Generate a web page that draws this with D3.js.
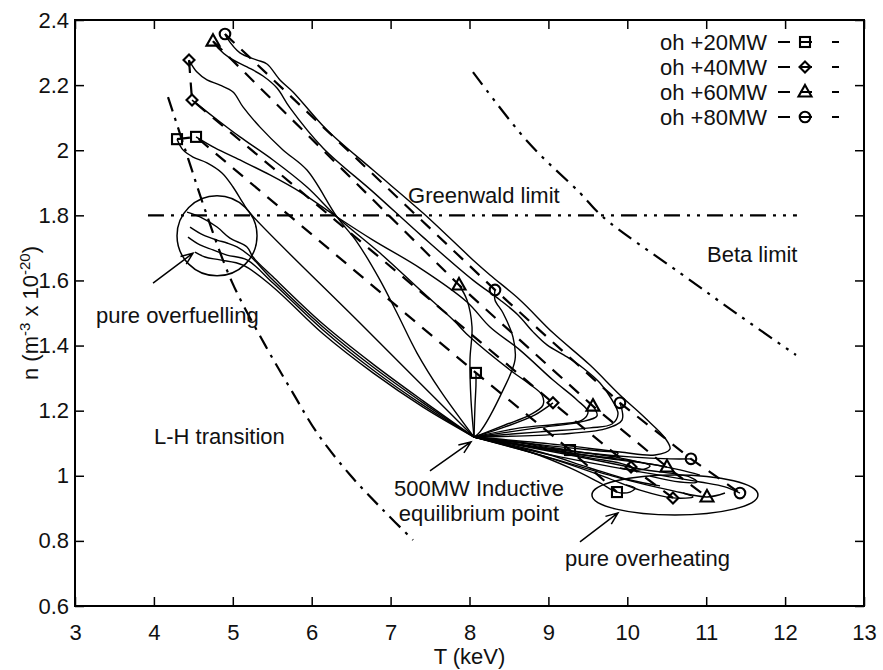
<!DOCTYPE html>
<html><head><meta charset="utf-8">
<script src="https://cdn.jsdelivr.net/npm/d3@7"></script>
<style>
html,body{margin:0;padding:0;background:#fff;}
svg{display:block;}
text{font-family:"Liberation Sans",Arial,Helvetica,sans-serif;fill:#111;}
</style></head><body>
<svg id="chart" width="883" height="670"></svg>
<script>
// ---------------- data ----------------
const xTicks = [3,4,5,6,7,8,9,10,11,12,13];
const xTickLabels = ["3","4","5","6","7","8","9","10","11","12","13"];
const yTicks = [0.6,0.8,1.0,1.2,1.4,1.6,1.8,2.0,2.2,2.4];
const yTickLabels = ["0.6","0.8","1","1.2","1.4","1.6","1.8","2","2.2","2.4"];
const seriesNames = ["oh +20MW","oh +40MW","oh +60MW","oh +80MW"];
const seriesSymbols = ["square","diamond","triangle","circle"];

const eqPoint = [8.057,1.119];

// steady-state end points (markers) per series
const pts20 = [[4.293,2.034],[4.534,2.041],[8.082,1.316],[9.274,1.079],[9.869,0.950]];
const pts40 = [[4.445,2.277],[4.483,2.154],[9.058,1.224],[10.047,1.027],[10.579,0.932]];
const pts60 = [[4.749,2.335],[7.867,1.586],[9.565,1.214],[10.503,1.027],[11.010,0.935]];
const pts80 = [[4.901,2.357],[8.323,1.571],[9.907,1.224],[10.807,1.052],[11.428,0.947]];

// trajectories (all start at the equilibrium point)
const traj20 = [
 [[6.637,1.463],[5.218,1.807],[5.129,1.838],[5.003,1.887],[4.863,1.930],[4.673,1.961],[4.496,1.979],[4.369,2.001],[4.293,2.034]],
 [[8.640,1.147],[9.147,1.159],[9.426,1.171],[9.502,1.196],[9.362,1.233],[9.058,1.294],[8.640,1.386],[8.260,1.457],[7.968,1.534],[7.373,1.638],[6.777,1.724],[6.321,1.795],[5.852,1.872],[5.471,1.924],[5.091,1.970],[4.774,2.007],[4.534,2.041]],
 [[8.070,1.217],[8.082,1.279],[8.082,1.316]],
 [[8.640,1.101],[9.020,1.085],[9.274,1.079]],
 [[8.767,1.073],[9.274,1.024],[9.654,0.978],[9.869,0.950],[10.034,0.950],[10.098,0.962],[9.983,0.972]]
];
const traj40 = [
 [[7.626,1.263],[7.335,1.377],[7.081,1.500],[6.866,1.601],[6.574,1.718],[6.321,1.795],[5.940,1.939],[5.636,2.001],[5.345,2.071],[5.129,2.133],[5.003,2.179],[4.838,2.200],[4.673,2.216],[4.546,2.240],[4.445,2.277]],
 [[8.450,1.156],[8.767,1.187],[8.931,1.217],[8.919,1.248],[8.741,1.285],[8.513,1.325],[8.006,1.426],[7.791,1.479],[7.373,1.571],[6.866,1.684],[6.321,1.795],[5.940,1.887],[5.509,1.970],[5.091,2.041],[4.774,2.099],[4.483,2.154]],
 [[8.450,1.150],[8.830,1.187],[9.058,1.224]],
 [[8.893,1.085],[9.527,1.055],[9.907,1.039],[10.047,1.027]],
 [[8.893,1.064],[9.654,1.002],[10.161,0.956],[10.579,0.932],[10.833,0.935],[10.706,0.947]]
];
const traj60 = [
 [[8.893,1.135],[9.527,1.147],[9.806,1.159],[9.882,1.190],[9.806,1.233],[9.654,1.285],[9.439,1.331],[9.236,1.365],[8.982,1.402],[8.805,1.442],[8.615,1.494],[8.387,1.540],[8.044,1.601],[7.411,1.733],[6.777,1.872],[6.143,2.007],[5.725,2.130],[5.560,2.191],[5.383,2.228],[5.180,2.256],[4.964,2.283],[4.812,2.314],[4.749,2.335]],
 [[8.019,1.233],[8.006,1.356],[8.032,1.457],[7.968,1.540],[7.867,1.586]],
 [[8.855,1.147],[9.400,1.165],[9.616,1.184],[9.565,1.214]],
 [[9.020,1.079],[9.781,1.052],[10.288,1.036],[10.503,1.027]],
 [[9.020,1.055],[9.907,0.993],[10.541,0.956],[11.010,0.935],[11.238,0.947]]
];
const traj80 = [
 [[9.147,1.095],[9.907,1.073],[10.351,1.064],[10.541,1.082],[10.478,1.116],[10.224,1.178],[9.907,1.248],[9.527,1.340],[9.058,1.439],[8.640,1.540],[8.260,1.617],[8.044,1.663],[7.411,1.807],[6.777,1.939],[6.194,2.062],[5.763,2.179],[5.598,2.216],[5.433,2.265],[5.307,2.277],[5.091,2.299],[4.926,2.345],[4.901,2.357]],
 [[8.133,1.135],[8.425,1.263],[8.577,1.356],[8.551,1.426],[8.425,1.500],[8.323,1.540],[8.323,1.571]],
 [[9.147,1.128],[9.717,1.144],[9.933,1.171],[9.907,1.224]],
 [[9.147,1.079],[10.034,1.058],[10.541,1.052],[10.807,1.052]],
 [[9.147,1.058],[10.161,1.012],[10.921,0.981],[11.238,0.966],[11.428,0.947]]
];
const trajOverfuel = [
 [[7.411,1.230],[6.777,1.343],[6.143,1.466],[5.509,1.611],[5.256,1.672],[5.180,1.703],[4.964,1.730],[4.800,1.764],[4.584,1.795],[4.420,1.810]],
 [[7.411,1.224],[6.777,1.334],[6.143,1.457],[5.509,1.601],[5.218,1.675],[5.053,1.703],[4.926,1.715],[4.800,1.724],[4.622,1.740],[4.458,1.764]],
 [[7.411,1.217],[6.777,1.325],[6.143,1.448],[5.509,1.592],[5.180,1.663],[4.926,1.678],[4.749,1.694],[4.584,1.709],[4.432,1.733]],
 [[7.411,1.211],[6.777,1.316],[6.143,1.436],[5.509,1.580],[5.129,1.647],[4.838,1.663],[4.648,1.672],[4.521,1.687]]
];
const trajOverheat = [
 [[9.020,1.092],[9.654,1.076],[9.882,1.070],[9.831,1.058],[9.591,1.061]],
 [[9.274,1.064],[10.161,1.021],[10.794,0.996],[10.883,0.981],[10.668,0.981],[10.288,0.999]],
 [[8.893,1.073],[9.527,1.024],[10.034,0.987],[10.415,0.969]],
 [[8.830,1.088],[9.464,1.064],[10.161,1.042],[10.668,1.018],[10.921,1.002]],
 [[8.767,1.098],[9.400,1.073],[9.907,1.055],[10.288,1.030],[10.161,1.018],[9.907,1.024]]
];

// limit curves
const greenwald = [[3.925,1.8],[12.15,1.8]];
const betaLimit = [[8.044,2.240],[8.741,2.025],[9.400,1.869],[9.692,1.795],[10.668,1.623],[11.428,1.491],[12.138,1.371]];
const lhTransition = [[4.179,2.163],[4.432,1.976],[4.648,1.817],[4.990,1.595],[5.408,1.402],[5.763,1.254],[6.067,1.132],[6.485,1.003],[6.904,0.895],[7.284,0.803]];

// annotations (data units)
const overfuelRing = {T:4.800, n:1.737, rT:0.507, rn:0.1228};
const overheatRing = {T:10.604, n:0.941, rT:1.052, rn:0.0614};
const arrows = [
 [[3.989,1.592],[4.496,1.684]],
 [[7.499,1.015],[8.019,1.104]],
 [[9.400,0.797],[9.882,0.886]]
];
const labels = [
 {text:"Greenwald limit", T:7.221, n:1.838, anchor:"start"},
 {text:"Beta limit", T:11.010, n:1.657, anchor:"start"},
 {text:"pure overfuelling", T:3.266, n:1.469, anchor:"start"},
 {text:"L-H transition", T:4.001, n:1.098, anchor:"start"},
 {text:"500MW Inductive", T:8.120, n:0.938, anchor:"middle"},
 {text:"equilibrium point", T:8.120, n:0.861, anchor:"middle"},
 {text:"pure overheating", T:9.210, n:0.723, anchor:"start"}
];

// ---------------- drawing ----------------
const svg = d3.select("#chart");
const L = 75, R = 864, T0 = 20, B = 606;
const x = d3.scaleLinear().domain([xTicks[0], xTicks[xTicks.length-1]]).range([L,R]);
const y = d3.scaleLinear().domain([yTicks[0], yTicks[yTicks.length-1]]).range([B,T0]);
const FONT = 22;

svg.append("rect").attr("width",883).attr("height",670).attr("fill","#fff");

svg.append("defs").append("clipPath").attr("id","clip")
  .append("rect").attr("x",L).attr("y",T0).attr("width",R-L).attr("height",B-T0);

const plot = svg.append("g").attr("clip-path","url(#clip)");
const lin = d3.line().x(d=>x(d[0])).y(d=>y(d[1]));
const smooth = d3.line().x(d=>x(d[0])).y(d=>y(d[1])).curve(d3.curveCatmullRom.alpha(0.5));

// limit lines
plot.append("path").attr("d",lin(greenwald)).attr("fill","none").attr("stroke","#000")
  .attr("stroke-width",2.2).attr("stroke-dasharray","16,7,3,7,3,7");
plot.append("path").attr("d",smooth(betaLimit)).attr("fill","none").attr("stroke","#000")
  .attr("stroke-width",2.2).attr("stroke-dasharray","16,7,3,7,3,7");
plot.append("path").attr("d",smooth(lhTransition)).attr("fill","none").attr("stroke","#000")
  .attr("stroke-width",2.2).attr("stroke-dasharray","15,7,3,7");

// trajectories
const allTraj = [].concat(traj20, traj40, traj60, traj80, trajOverfuel, trajOverheat);
plot.selectAll("path.traj").data(allTraj).enter().append("path").attr("class","traj")
  .attr("d",d=>smooth([eqPoint].concat(d))).attr("fill","none")
  .attr("stroke","#000").attr("stroke-width",1.4);

// series dashed lines + markers
const seriesPts = [pts20, pts40, pts60, pts80];
function marker(g, type, cx, cy){
  let m;
  if(type==="square") m = g.append("rect").attr("x",cx-5).attr("y",cy-5).attr("width",10).attr("height",10);
  else if(type==="diamond") m = g.append("path").attr("d",`M${cx},${cy-5.5}L${cx+5.5},${cy}L${cx},${cy+5.5}L${cx-5.5},${cy}Z`);
  else if(type==="triangle") m = g.append("path").attr("d",`M${cx},${cy-7}L${cx+6.5},${cy+4.5}L${cx-6.5},${cy+4.5}Z`);
  else m = g.append("circle").attr("cx",cx).attr("cy",cy).attr("r",5.3);
  m.attr("fill","none").attr("stroke","#000").attr("stroke-width",2.1);
}
seriesPts.forEach((pts,i)=>{
  plot.append("path").attr("d",lin(pts)).attr("fill","none").attr("stroke","#000")
    .attr("stroke-width",2.2).attr("stroke-dasharray","13,9.5");
  pts.forEach(p=>marker(plot, seriesSymbols[i], x(p[0]), y(p[1])));
});

// rings
[overfuelRing, overheatRing].forEach(r=>{
  plot.append("ellipse").attr("cx",x(r.T)).attr("cy",y(r.n))
    .attr("rx",x(r.T+r.rT)-x(r.T)).attr("ry",y(r.n)-y(r.n+r.rn))
    .attr("fill","none").attr("stroke","#000").attr("stroke-width",1.5);
});

// arrows
arrows.forEach(a=>{
  const x1=x(a[0][0]), y1=y(a[0][1]), x2=x(a[1][0]), y2=y(a[1][1]);
  const ang=Math.atan2(y2-y1,x2-x1), hl=13, w=0.38;
  const d=`M${x1},${y1}L${x2},${y2}M${x2-hl*Math.cos(ang-w)},${y2-hl*Math.sin(ang-w)}L${x2},${y2}L${x2-hl*Math.cos(ang+w)},${y2-hl*Math.sin(ang+w)}`;
  svg.append("path").attr("d",d).attr("fill","none").attr("stroke","#000").attr("stroke-width",1.5);
});

// labels
labels.forEach(l=>{
  svg.append("text").attr("x",x(l.T)).attr("y",y(l.n)).attr("text-anchor",l.anchor)
    .attr("font-size",FONT).text(l.text);
});

// axes
function styleAxis(g){
  g.select(".domain").remove();
  g.selectAll("line").attr("stroke","#000").attr("stroke-width",1.5);
  g.attr("font-size",FONT);
  g.selectAll("text").attr("fill","#111");
}
svg.append("g").attr("transform",`translate(0,${B})`)
  .call(d3.axisBottom(x).tickValues(xTicks).tickFormat((d,i)=>xTickLabels[i]).tickSizeInner(-9).tickSizeOuter(0).tickPadding(18))
  .call(styleAxis);
svg.append("g").attr("transform",`translate(0,${T0})`)
  .call(d3.axisTop(x).tickValues(xTicks).tickFormat("").tickSizeInner(-9).tickSizeOuter(0))
  .call(styleAxis);
svg.append("g").attr("transform",`translate(${L},0)`)
  .call(d3.axisLeft(y).tickValues(yTicks).tickFormat((d,i)=>yTickLabels[i]).tickSizeInner(-9).tickSizeOuter(0).tickPadding(6))
  .call(styleAxis);
svg.append("g").attr("transform",`translate(${R},0)`)
  .call(d3.axisRight(y).tickValues(yTicks).tickFormat("").tickSizeInner(-9).tickSizeOuter(0))
  .call(styleAxis);

svg.append("rect").attr("x",L).attr("y",T0).attr("width",R-L).attr("height",B-T0)
  .attr("fill","none").attr("stroke","#000").attr("stroke-width",2);

// axis titles
svg.append("text").attr("x",(L+R)/2).attr("y",664).attr("text-anchor","middle")
  .attr("font-size",FONT).text("T (keV)");
const yt = svg.append("text").attr("transform",`translate(38,${(T0+B)/2}) rotate(-90)`)
  .attr("text-anchor","middle").attr("font-size",FONT);
yt.append("tspan").text("n (m");
yt.append("tspan").attr("dy",-8).attr("font-size",15).text("-3");
yt.append("tspan").attr("dy",8).text(" x 10");
yt.append("tspan").attr("dy",-8).attr("font-size",15).text("-20");
yt.append("tspan").attr("dy",8).text(")");

// legend
seriesNames.forEach((name,i)=>{
  const cy = 42 + 25*i;
  svg.append("text").attr("x",767).attr("y",cy+7.5).attr("text-anchor","end")
    .attr("font-size",FONT).text(name);
  svg.append("line").attr("x1",778).attr("x2",839).attr("y1",cy).attr("y2",cy)
    .attr("stroke","#000").attr("stroke-width",2.2).attr("stroke-dasharray","12,10,12,20,7,40");
  marker(svg, seriesSymbols[i], 805, cy);
});
</script>
</body></html>
